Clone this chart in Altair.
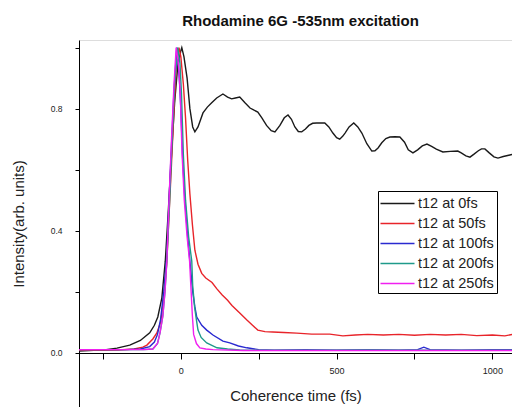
import altair as alt
import pandas as pd

# ---- data ----
series_names = ["t12 at 0fs", "t12 at 50fs", "t12 at 100fs", "t12 at 200fs", "t12 at 250fs"]
series_colors = ["#1a1a1a", "#e8242a", "#2a2ad0", "#1f9a8a", "#f020f0"]

t_0 = [-330, -280, -240, -205, -164, -130, -100, -85, -74, -61, -50, -40, -30, -20, -10, 0, 3, 10, 20, 29,
       38, 45, 55, 71, 85, 99, 115, 135, 150, 163, 175, 189, 205, 222, 235, 247, 260, 275, 290, 302,
       318, 332, 344, 355, 366, 377, 388, 400, 411, 423, 436, 449, 462, 475, 488, 500, 510, 520, 527, 540,
       555, 568, 581, 597, 613, 623, 633, 645, 658, 671, 687, 703, 718, 730, 745, 760, 775, 790, 805, 820,
       841, 865, 889, 900, 915, 928, 940, 955, 965, 976, 990, 1005, 1018, 1035, 1056, 1065]
v_0 = [0.005, 0.008, 0.010, 0.015, 0.025, 0.040, 0.065, 0.090, 0.117, 0.180, 0.300, 0.470, 0.650, 0.820, 0.940, 0.990, 1.000, 0.970, 0.900, 0.800,
       0.740, 0.724, 0.740, 0.786, 0.805, 0.819, 0.835, 0.848, 0.838, 0.832, 0.835, 0.838, 0.820, 0.802, 0.795, 0.789, 0.770, 0.745, 0.728, 0.724,
       0.745, 0.770, 0.779, 0.765, 0.740, 0.725, 0.724, 0.733, 0.745, 0.752, 0.753, 0.753, 0.753, 0.740, 0.720, 0.705, 0.700, 0.710, 0.720, 0.740,
       0.753, 0.740, 0.720, 0.685, 0.661, 0.662, 0.671, 0.688, 0.702, 0.707, 0.708, 0.707, 0.690, 0.665, 0.655, 0.665, 0.678, 0.684, 0.676, 0.667,
       0.658, 0.660, 0.661, 0.655, 0.645, 0.641, 0.650, 0.662, 0.668, 0.668, 0.655, 0.642, 0.638, 0.643, 0.648, 0.650]

t_50 = [-330, -250, -200, -150, -122, -109, -90, -77, -65, -55, -45, -38, -30, -22, -14, -6, 0, 8, 15, 22,
        29, 37, 45, 55, 67, 80, 100, 115, 132, 150, 164, 189, 212, 230, 247, 270, 295, 330, 372, 420,
        478, 520, 560, 600, 650, 700, 750, 800, 850, 900, 950, 1000, 1040, 1065]
v_50 = [0.008, 0.008, 0.009, 0.012, 0.018, 0.025, 0.045, 0.065, 0.100, 0.170, 0.300, 0.450, 0.620, 0.800, 0.950, 1.000, 0.970, 0.880, 0.770, 0.630,
        0.520, 0.420, 0.336, 0.290, 0.260, 0.245, 0.230, 0.210, 0.190, 0.172, 0.155, 0.130, 0.107, 0.090, 0.074, 0.069, 0.068, 0.066, 0.064, 0.061,
        0.061, 0.055, 0.058, 0.060, 0.058, 0.060, 0.057, 0.060, 0.058, 0.060, 0.056, 0.058, 0.055, 0.060]

t_100 = [-330, -250, -180, -130, -100, -85, -75, -65, -55, -45, -38, -30, -22, -13, -5, 0, 6, 13, 22, 29,
         38, 45, 51, 67, 83, 103, 135, 157, 185, 212, 250, 300, 400, 500, 600, 700, 760, 780, 800, 900,
         1000, 1065]
v_100 = [0.010, 0.010, 0.010, 0.012, 0.020, 0.035, 0.060, 0.110, 0.200, 0.320, 0.500, 0.680, 0.860, 1.000, 0.900, 0.800, 0.630, 0.500, 0.380, 0.300,
         0.200, 0.150, 0.117, 0.090, 0.074, 0.058, 0.038, 0.032, 0.022, 0.016, 0.010, 0.008, 0.010, 0.008, 0.010, 0.008, 0.010, 0.018, 0.010, 0.008,
         0.010, 0.010]

t_200 = [-330, -200, -120, -90, -75, -67, -58, -51, -45, -36, -28, -20, -10, -3, 2, 8, 15, 25, 35, 38,
         44, 51, 55, 65, 83, 116, 150, 189, 300, 450, 600, 750, 900, 1065]
v_200 = [0.010, 0.010, 0.010, 0.012, 0.030, 0.065, 0.120, 0.200, 0.300, 0.500, 0.700, 0.880, 1.000, 0.950, 0.850, 0.650, 0.500, 0.380, 0.300, 0.220,
         0.150, 0.100, 0.074, 0.050, 0.032, 0.016, 0.012, 0.009, 0.008, 0.008, 0.009, 0.008, 0.008, 0.008]

t_250 = [-330, -200, -120, -90, -75, -67, -58, -51, -45, -38, -30, -22, -15, -8, -2, 4, 11, 20, 28, 33,
         37, 41, 50, 61, 80, 103, 200, 400, 600, 800, 1065]
v_250 = [0.010, 0.010, 0.010, 0.012, 0.030, 0.065, 0.120, 0.200, 0.300, 0.500, 0.700, 0.880, 1.000, 0.950, 0.850, 0.650, 0.500, 0.380, 0.300, 0.200,
         0.120, 0.060, 0.030, 0.016, 0.012, 0.010, 0.007, 0.007, 0.007, 0.007, 0.007]

x_ticks = [-250, 0, 250, 500, 750, 1000]
y_ticks = [0.0, 0.2, 0.4, 0.6, 0.8, 1.0]

# ---- long table ----
rows = []
for name, ts, vs in zip(series_names, [t_0, t_50, t_100, t_200, t_250], [v_0, v_50, v_100, v_200, v_250]):
    for i, (t, v) in enumerate(zip(ts, vs)):
        rows.append({"series": name, "t": t, "v": v, "i": i})
df = pd.DataFrame(rows)

FONT = "Liberation Sans"

chart = alt.Chart(df).mark_line(clip=True, strokeWidth=1.4).encode(
    x=alt.X("t:Q", scale=alt.Scale(domain=[-327, 1063], nice=False, zero=False),
            axis=alt.Axis(values=x_ticks, offset=-54, tickSize=6, labelPadding=7,
                          labelExpr="datum.value % 500 == 0 ? datum.label : ''",
                          format="d", labelFontSize=9, labelColor="#222", labelFont=FONT,
                          title="Coherence time (fs)", titleFont=FONT, titleFontSize=15,
                          titleFontWeight="normal", titleColor="#222", titlePadding=13,
                          domainColor="black", tickColor="black", grid=False, labelFlush=False)),
    y=alt.Y("v:Q", scale=alt.Scale(domain=[-0.178, 1.025], nice=False, zero=False),
            axis=alt.Axis(values=y_ticks, tickSize=4, labelPadding=13,
                          labelExpr="(abs(datum.value) < 0.01 || abs(datum.value - 0.4) < 0.01 || abs(datum.value - 0.8) < 0.01) ? format(datum.value, '.1f') : ''",
                          labelFontSize=8.5, labelColor="#222", labelFont=FONT,
                          title="Intensity(arb. units)", titleFont=FONT, titleFontSize=15,
                          titleFontWeight="normal", titleColor="#222", titlePadding=24,
                          domainColor="black", tickColor="black", grid=False)),
    color=alt.Color("series:N", sort=series_names,
                    scale=alt.Scale(domain=series_names, range=series_colors),
                    legend=alt.Legend(orient="none", legendX=299, legendY=151, title=None,
                                      symbolType="M-2,0H2", symbolSize=289, symbolStrokeWidth=1.5,
                                      symbolOffset=7,
                                      labelFont=FONT, labelFontSize=14.5, labelColor="#222",
                                      strokeColor="black", fillColor="white", padding=3,
                                      rowPadding=4, labelOffset=11)),
    order="i:Q",
).properties(
    width=433, height=367,
    title=alt.TitleParams("Rhodamine 6G -535nm excitation", font=FONT, fontSize=15,
                          fontWeight="bold", anchor="middle", frame="group", offset=11, dx=5,
                          color="#111"),
    padding={"left": 79, "top": 40, "right": 0, "bottom": 0},
    autosize=alt.AutoSizeParams(type="none"),
).configure_view(stroke=None).configure(background="white")

chart.save("out.html", embed_options={"renderer": "svg", "actions": False})
